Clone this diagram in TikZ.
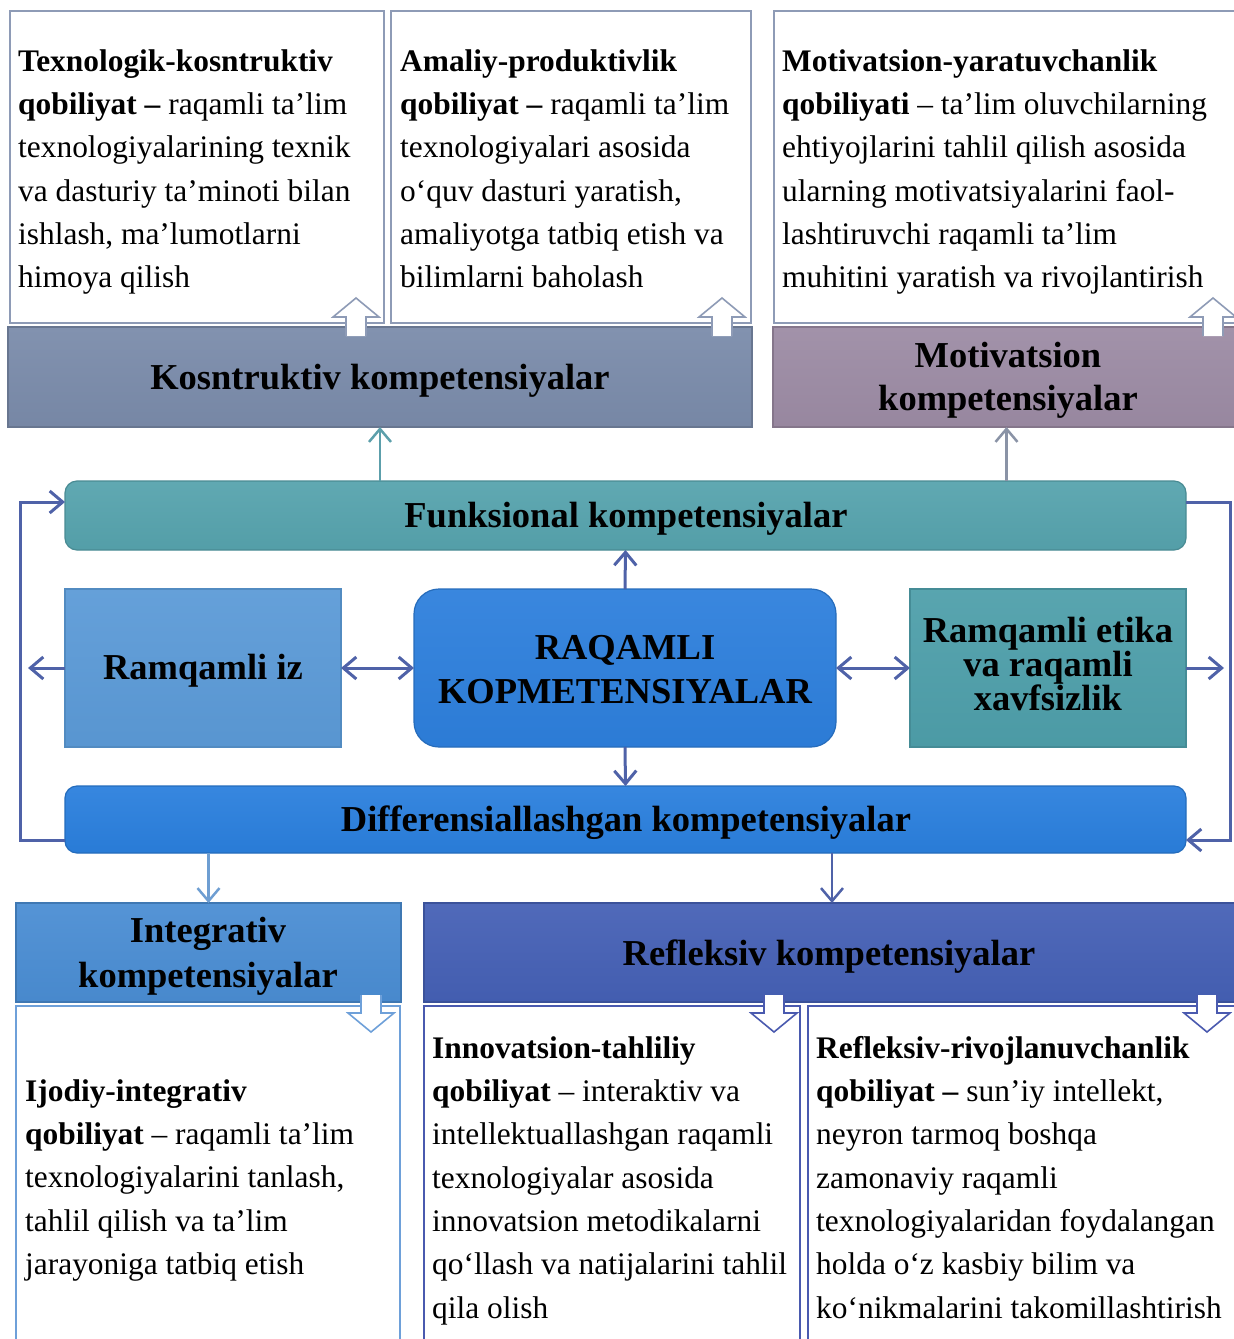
\documentclass[tikz,border=0pt]{standalone}
\usepackage{fontspec}
\setmainfont{Liberation Serif}
\usetikzlibrary{arrows.meta}

% fills
\definecolor{kosnC}{HTML}{7A8BAA}
\definecolor{motC}{HTML}{9C8BA4}
\definecolor{funkC}{HTML}{56A3AD}
\definecolor{izC}{HTML}{5B9AD7}
\definecolor{coreC}{HTML}{2D7FDC}
\definecolor{etiC}{HTML}{4E9FAA}
\definecolor{diffC}{HTML}{2A7FDD}
\definecolor{integC}{HTML}{4A8DD3}
\definecolor{reflC}{HTML}{4560B5}
% lines
\definecolor{arrowC}{HTML}{4F62A8}
\definecolor{tealArrow}{HTML}{5C9FAB}
\definecolor{grayArrow}{HTML}{8A93A6}
\definecolor{lightArrow}{HTML}{6E9ED2}
\definecolor{topEdge}{HTML}{8E9BB6}
\definecolor{integEdge}{HTML}{6EA0D9}
\definecolor{reflEdge}{HTML}{4A5AAF}

% hollow block arrows sitting on the panel edges
\newcommand\hollowup[2]{%
  \filldraw[draw=#2, fill=white, line width=1.6pt, line join=miter]
    (#1-10,336) -- (#1-10,317) -- (#1-23,317) -- (#1,298) -- (#1+23,317) -- (#1+10,317) -- (#1+10,336);}
\newcommand\hollowdown[2]{%
  \filldraw[draw=#2, fill=white, line width=1.6pt, line join=miter]
    (#1-10,995) -- (#1-10,1013) -- (#1-23,1013) -- (#1,1032) -- (#1+23,1013) -- (#1+10,1013) -- (#1+10,995);}

\begin{document}
\begin{tikzpicture}[x=1pt,y=-1pt,
  panel/.style={draw=#1, line width=2.5pt, fill=white, outer sep=0pt, inner sep=0pt},
  band/.style 2 args={draw=#2, line width=1.2pt, top color=#1!94!white, bottom color=#1!97!black, outer sep=0pt, inner sep=0pt},
  hdr/.style={font=\fontsize{36.5}{43}\selectfont\bfseries, inner sep=0pt, text=black},
  body/.style={font=\fontsize{31.4}{43.3}\selectfont, inner sep=0pt, align=left, anchor=north west, text=black},
  tipA/.tip={Straight Barb[length=13pt,width=22pt]},
  conn/.style={draw=#1, line width=3pt, -tipA},
  conn/.default=arrowC,
  biconn/.style={draw=arrowC, line width=3pt, tipA-tipA}]

\useasboundingbox (0,0) rectangle (1234,1339);
\clip (0,0) rectangle (1234,1339);

% ---------- upper row: ability panels and their headers ----------
\node[panel=topEdge, minimum width=374, minimum height=312] (tA) at (197,167) {};
\node[panel=topEdge, minimum width=360, minimum height=312] (tB) at (571,167) {};
\node[panel=topEdge, minimum width=466, minimum height=312] (tC) at (1007,167) {};

\node[body] (tA-t) at (18,40.7) {\strut\textbf{Texnologik-kosntruktiv}\\
\textbf{qobiliyat –} raqamli ta’lim\\
texnologiyalarining texnik\\
va dasturiy ta’minoti bilan\\
ishlash, ma’lumotlarni\\
himoya qilish};
\node[body] (tB-t) at (400,40.7) {\strut\textbf{Amaliy-produktivlik}\\
\textbf{qobiliyat –} raqamli ta’lim\\
texnologiyalari asosida\\
o‘quv dasturi yaratish,\\
amaliyotga tatbiq etish va\\
bilimlarni baholash};
\node[body] (tC-t) at (782,40.7) {\strut\textbf{Motivatsion-yaratuvchanlik}\\
\textbf{qobiliyati} – ta’lim oluvchilarning\\
ehtiyojlarini tahlil qilish asosida\\
ularning motivatsiyalarini faol-\\
lashtiruvchi raqamli ta’lim\\
muhitini yaratish va rivojlantirish};

\node[band={kosnC}{kosnC!85!black}, minimum width=744, minimum height=100] (kosn) at (380,377) {};
\node[band={motC}{motC!85!black}, minimum width=467, minimum height=100] (mot) at (1006.5,377) {};
\node[hdr, anchor=base] (kosn-t) at (380,389) {Kosntruktiv kompetensiyalar};
\node[hdr, anchor=north, align=center] (mot-t) at (1008,336.9) {\strut Motivatsion\\kompetensiyalar};

\hollowup{356}{topEdge}
\hollowup{722}{topEdge}
\hollowup{1213}{topEdge}

% ---------- core block ----------
\node[band={funkC}{funkC!85!black}, rounded corners=12pt, minimum width=1121, minimum height=69] (funk) at (625.5,515.5) {};
\node[hdr, anchor=base] (funk-t) at (626,527) {Funksional kompetensiyalar};

\node[band={izC}{izC!90!black}, minimum width=276, minimum height=158] (iz) at (203,668) {};
\node[hdr, anchor=base] (iz-t) at (203,679) {Ramqamli iz};

\node[band={coreC}{coreC!85!black}, rounded corners=25pt, minimum width=422, minimum height=158] (core) at (625,668) {};
\node[hdr, anchor=north, align=center, font=\fontsize{36.5}{44}\selectfont\bfseries] (core-t) at (625,628.2) {\strut RAQAMLI\\KOPMETENSIYALAR};

\node[band={etiC}{etiC!88!black}, minimum width=276, minimum height=158] (eti) at (1048,668) {};
\node[hdr, anchor=north, align=center, font=\fontsize{36.5}{34}\selectfont\bfseries] (eti-t) at (1048,612) {\rule{0pt}{30pt}Ramqamli etika\\va raqamli\\xavfsizlik};

\node[band={diffC}{diffC!85!black}, rounded corners=12pt, minimum width=1121, minimum height=67] (diff) at (625.5,819.5) {};
\node[hdr, anchor=base] (diff-t) at (626,831) {Differensiallashgan kompetensiyalar};

% ---------- lower row: headers and ability panels ----------
\node[band={integC}{integC!85!black}, minimum width=385, minimum height=99] (integ) at (208.5,952.5) {};
\node[band={reflC}{reflC!85!black}, minimum width=816, minimum height=99] (refl) at (832,952.5) {};
\node[hdr, anchor=north, align=center, font=\fontsize{36.5}{45}\selectfont\bfseries] (integ-t) at (208,910.5) {\strut Integrativ\\kompetensiyalar};
\node[hdr, anchor=base] (refl-t) at (829,965) {Refleksiv kompetensiyalar};

\node[panel=integEdge, minimum width=384, minimum height=344] (bA) at (208,1178) {};
\node[panel=reflEdge, minimum width=376, minimum height=344] (bB) at (612,1178) {};
\node[panel=reflEdge, minimum width=432, minimum height=344] (bC) at (1024,1178) {};

\node[body] (bA-t) at (25,1070.7) {\strut\textbf{Ijodiy-integrativ}\\
\textbf{qobiliyat} – raqamli ta’lim\\
texnologiyalarini tanlash,\\
tahlil qilish va ta’lim\\
jarayoniga tatbiq etish};
\node[body] (bB-t) at (432,1027.7) {\strut\textbf{Innovatsion-tahliliy}\\
\textbf{qobiliyat} – interaktiv va\\
intellektuallashgan raqamli\\
texnologiyalar asosida\\
innovatsion metodikalarni\\
qo‘llash va natijalarini tahlil\\
qila olish};
\node[body] (bC-t) at (816,1027.7) {\strut\textbf{Refleksiv-rivojlanuvchanlik}\\
\textbf{qobiliyat –} sun’iy intellekt,\\
neyron tarmoq boshqa\\
zamonaviy raqamli\\
texnologiyalaridan foydalangan\\
holda o‘z kasbiy bilim va\\
ko‘nikmalarini takomillashtirish};

\hollowdown{371}{integEdge}
\hollowdown{774}{reflEdge}
\hollowdown{1207}{reflEdge}

% ---------- connectors ----------
\coordinate (izOut) at (28,668);
\coordinate (etiOut) at (1224,668);
\coordinate (loopL) at (20,660);
\coordinate (loopR) at (1230,660);

\draw[conn] (core.north) -- (funk.south);
\draw[conn] (core.south) -- (diff.north);
\draw[biconn] (iz.east) -- (core.west);
\draw[biconn] (core.east) -- (eti.west);
\draw[conn] (iz.west) -- (izOut);
\draw[conn] (eti.east) -- (etiOut);
\draw[conn] ([yshift=-20.5pt]diff.west) -| (loopL) |- ([yshift=13.5pt]funk.west);
\draw[conn] ([yshift=13.5pt]funk.east) -| (loopR) |- ([yshift=-20.5pt]diff.east);

\draw[conn=tealArrow, line width=2.5pt] (funk.north -| kosn.south) -- (kosn.south);
\draw[conn=grayArrow, line width=2.5pt] (funk.north -| mot.south) -- (mot.south);
\draw[conn=lightArrow, line width=2.5pt] (diff.south -| integ.north) -- (integ.north);
\draw[conn, line width=2.5pt] (diff.south -| refl.north) -- (refl.north);

\end{tikzpicture}
\end{document}
